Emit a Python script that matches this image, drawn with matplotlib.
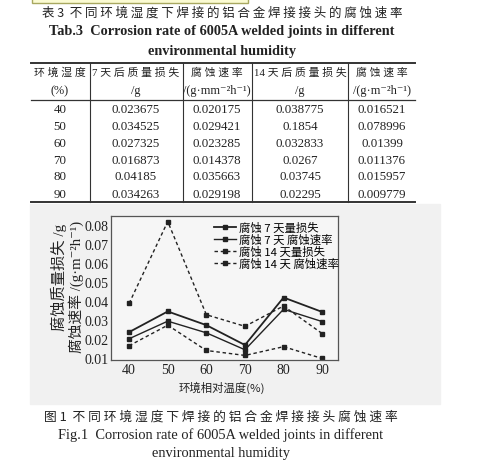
import matplotlib
matplotlib.use('Agg')
from matplotlib import pyplot as plt
from matplotlib.patches import Rectangle
from matplotlib.lines import Line2D

humidity = [40, 50, 60, 70, 80, 90]
loss_7d = [0.023675, 0.034525, 0.027325, 0.016873, 0.04185, 0.034263]
rate_7d = [0.020175, 0.029421, 0.023285, 0.014378, 0.035663, 0.029198]
loss_14d_plot = [0.0388, 0.0818, 0.0328, 0.0267, 0.0374, 0.0229]
rate_14d_plot = [0.0165, 0.0273, 0.0140, 0.0114, 0.0160, 0.0098]

tab_humidity = ['40', '50', '60', '70', '80', '90']
tab_loss_7d = ['0.023675', '0.034525', '0.027325', '0.016873', '0.04185', '0.034263']
tab_rate_7d = ['0.020175', '0.029421', '0.023285', '0.014378', '0.035663', '0.029198']
tab_loss_14d = ['0.038775', '0.1854', '0.032833', '0.0267', '0.03745', '0.02295']
tab_rate_14d = ['0.016521', '0.078996', '0.01399', '0.011376', '0.015957', '0.009779']

head1 = ['环 境 湿 度', '7 天 后 质 量 损 失', '腐 蚀 速 率', '14 天 后 质 量 损 失', '腐 蚀 速 率']
head2 = ['(%)', '/g', '/(g·mm⁻²h⁻¹)', '/g', '/(g·m⁻²h⁻¹)']

legend_labels = ['腐蚀 7 天量损失', '腐蚀 7 天 腐蚀速率', '腐蚀 14 天量损失', '腐蚀 14 天 腐蚀速率']

W, H = 499, 464
SERIF = ['Liberation Serif', 'DejaVu Serif', 'Noto Sans CJK SC']
CJK = ['Noto Sans CJK SC', 'Liberation Serif', 'DejaVu Serif']

fig = plt.figure(figsize=(W / 100, H / 100), dpi=100)


def fx(x):
    return x / W


def fy(y):
    return 1 - y / H


def txt(x, y, s, size, family=SERIF, **kw):
    fig.text(fx(x), fy(y), s, fontsize=size, family=family,
             ha=kw.pop('ha', 'center'), va=kw.pop('va', 'center'), color='#222222', **kw)


# scanned gray patch behind the figure
fig.patches.append(Rectangle((fx(30), fy(405)), fx(440) - fx(30), fy(205) - fy(405),
                             transform=fig.transFigure, color='#f1f1f1', zorder=-5))
# yellow highlight box cut at the top
fig.patches.append(Rectangle((fx(32), fy(4)), fx(248) - fx(32), fy(-5) - fy(4),
                             transform=fig.transFigure, facecolor='#fbfbd2',
                             edgecolor='#a8a860', lw=1, zorder=-4))

# table caption
txt(222, 13, '表 3  不 同 环 境 湿 度 下 焊 接 的 铝 合 金 焊 接 接 头 的 腐 蚀 速 率', 9.0, CJK)
txt(222, 32, 'Tab.3  Corrosion rate of 6005A welded joints in different', 10.3, weight='bold')
txt(222, 51, 'environmental humidity', 10.3, weight='bold')

# table rules
for y, lw in [(64, 1.4), (101, 0.9), (203, 1.4)]:
    fig.lines.append(Line2D([fx(31), fx(415)], [fy(y), fy(y)], transform=fig.transFigure,
                            color='#333333', lw=lw))
for x in [90, 183, 252, 348]:
    fig.lines.append(Line2D([fx(x), fx(x)], [fy(64), fy(203)], transform=fig.transFigure,
                            color='#333333', lw=0.8))

col_x = [60, 136, 217, 300, 382]
for cx, h1, h2 in zip(col_x, head1, head2):
    txt(cx, 73, h1, 7.8, ['Liberation Serif', 'Noto Sans CJK SC'])
    txt(cx, 91, h2, 8.8)

row_y = [110, 127, 144, 161, 177, 195]
for i, ry in enumerate(row_y):
    cells = [tab_humidity[i], tab_loss_7d[i], tab_rate_7d[i], tab_loss_14d[i], tab_rate_14d[i]]
    for cx, c in zip(col_x, cells):
        txt(cx, ry, c, 9.3)

# chart
ax = fig.add_axes([fx(111), fy(361), fx(338) - fx(111), fy(217) - fy(361)])
ax.set_zorder(2)
ax.set_facecolor('#f6f6f6')
ax.plot(humidity, loss_7d, '-s', color='#222222', lw=1.3, ms=3.2, label=legend_labels[0])
ax.plot(humidity, rate_7d, '-s', color='#222222', lw=1.0, ms=3.2, label=legend_labels[1])
ax.plot(humidity, loss_14d_plot, '--s', color='#222222', lw=1.0, ms=3.2,
        dashes=(2.5, 2), label=legend_labels[2])
ax.plot(humidity, rate_14d_plot, '--s', color='#222222', lw=1.0, ms=3.2,
        dashes=(2.5, 2), label=legend_labels[3])

ax.set_xlim(35.3, 94.1)
ax.set_ylim(0.009, 0.0847)
ax.set_xticks(humidity)
ax.set_yticks([0.01, 0.02, 0.03, 0.04, 0.05, 0.06, 0.07, 0.08])
ax.set_yticklabels(['0.01', '0.02', '0.03', '0.04', '0.05', '0.06', '0.07', '0.08'])
for lab in ax.get_xticklabels() + ax.get_yticklabels():
    lab.set_family(SERIF)
    lab.set_fontsize(10)
    lab.set_color('#222222')
ax.tick_params(length=0, pad=2)
for s in ax.spines.values():
    s.set_color('#555555')
    s.set_linewidth(0.9)

leg = ax.legend(loc='upper left', bbox_to_anchor=(0.43, 1.0), frameon=False,
                prop={'family': CJK, 'size': 8.2}, handlelength=1.9, handletextpad=0.3,
                labelspacing=0.08, borderaxespad=0.1)

txt(59, 277, '腐蚀质量损失 /g', 11.0, SERIF, rotation=90)
txt(76, 287, '腐蚀速率 /(g·m⁻²h⁻¹)', 10.6, SERIF, rotation=90)
txt(222, 388, '环境相对温度(%)', 8.2, CJK)

# figure caption
txt(221, 417, '图 1  不 同 环 境 湿 度 下 焊 接 的 铝 合 金 焊 接 接 头 腐 蚀 速 率', 9.2, CJK)
txt(221, 435, 'Fig.1  Corrosion rate of 6005A welded joints in different', 10.4)
txt(221, 454, 'environmental humidity', 10.4)

plt.savefig('out.png', dpi=100)
